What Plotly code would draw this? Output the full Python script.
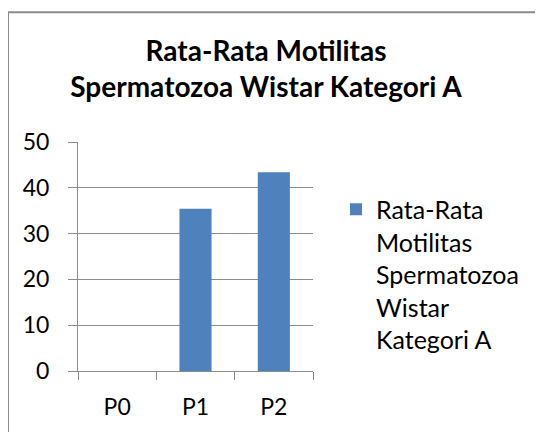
import plotly.graph_objects as go

categories = ["P0", "P1", "P2"]
values = [0, 35.4, 43.4]
series_name = "Rata-Rata<br>Motilitas<br>Spermatozoa<br>Wistar<br>Kategori A"
title_text = "Rata-Rata Motilitas<br>Spermatozoa Wistar Kategori A"
y_ticks = [0, 10, 20, 30, 40, 50]

# page body adds an 8px margin, so the figure is drawn 8px smaller and shifted
OFF = 8
W, H = 543 - OFF, 432 - OFF
L, R, T, B = 78 - OFF, 313 - OFF, 142 - OFF, 373 - OFF
pw, ph = R - L, B - T

def px(x):
    return (x - OFF - L) / pw

def py(y):
    return (B - (y - OFF)) / ph

FONT = "Lato, Carlito, Calibri, sans-serif"
GRID = "#8c8c8c"
BORDER = "#8c8c8c"

fig = go.Figure()
fig.add_trace(go.Bar(
    x=categories, y=values, name=series_name,
    marker=dict(color="#4F81BD", line=dict(width=0)),
    showlegend=True,
))

fig.update_layout(
    width=W, height=H,
    margin=dict(l=L, r=W - R, t=T, b=H - B, pad=0),
    paper_bgcolor="white", plot_bgcolor="white",
    font=dict(family=FONT, size=23, color="black"),
    bargap=0.59,
    title=dict(
        text=title_text, x=(266 - OFF) / W, xanchor="center", xref="container",
        y=1 - 53 / H, yanchor="top", yref="container",
        font=dict(family=FONT, size=28, color="black", weight="bold"),
    ),
    xaxis=dict(
        showgrid=False, showline=True, linecolor=GRID, linewidth=1,
        ticks="outside", tickson="boundaries", ticklen=8, tickcolor=GRID,
        ticklabelstandoff=15, tickfont=dict(size=23), fixedrange=True,
    ),
    yaxis=dict(
        range=[0, 50], tickvals=y_ticks, showgrid=True, gridcolor=GRID, gridwidth=1,
        showline=True, linecolor=GRID, linewidth=1, zeroline=False,
        ticks="outside", ticklen=9, tickcolor=GRID, ticklabelstandoff=14,
        tickfont=dict(size=23), fixedrange=True,
    ),
    legend=dict(
        x=px(336), xanchor="left", y=py(187), yanchor="top",
        valign="top", font=dict(size=25), bgcolor="rgba(0,0,0,0)",
        itemwidth=30,
    ),
    shapes=[
        dict(type="line", xref="paper", yref="paper",
             x0=px(8), x1=px(560), y0=py(11), y1=py(11),
             line=dict(color=BORDER, width=2), layer="above"),
        dict(type="line", xref="paper", yref="paper",
             x0=px(8), x1=px(8), y0=py(11), y1=py(450),
             line=dict(color=BORDER, width=2), layer="above"),
    ],
)

fig.write_html("out.html")
